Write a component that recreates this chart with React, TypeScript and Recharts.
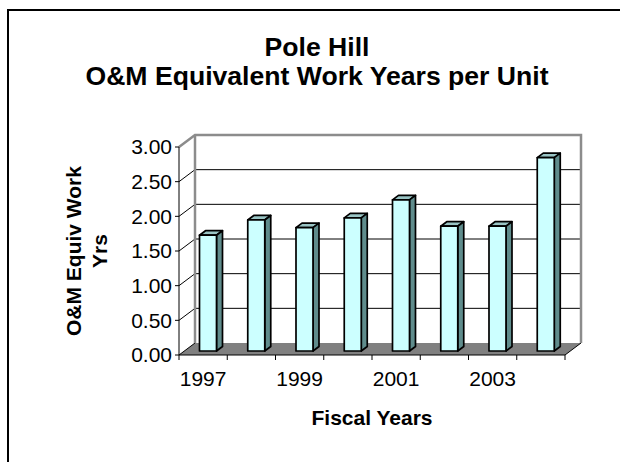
import React from 'react';
import { BarChart, Bar, XAxis, YAxis, ReferenceArea } from 'recharts';

const years = ['1997', '1998', '1999', '2000', '2001', '2002', '2003', '2004'];
const workYears = [1.67, 1.89, 1.78, 1.92, 2.18, 1.8, 1.8, 2.79];
const yTicks = [0, 0.5, 1, 1.5, 2, 2.5, 3];
const titleLines = ['Pole Hill', 'O&M Equivalent Work Years per Unit'];
const yLabelLines = ['O&M Equiv Work', 'Yrs'];

const data = years.map((year, i) => ({ year, value: workYears[i] }));

const FONT = '"Liberation Sans", Arial, sans-serif';
// 3D look: back wall offset and bar depth
const WALL_DX = 16;
const WALL_DY = -12;
const BAR_SHIFT_X = 4.5;
const BAR_SHIFT_Y = -4;
const BAR_DX = 6;
const BAR_DY = -4.5;

const Scene = (props: any) => {
    const { x, y, width, height } = props;
    const yMax = yTicks[yTicks.length - 1];
    const bottom = y + height;
    const inner = yTicks.filter((t) => t > 0 && t < yMax);
    const n = years.length;
    return (
        <g>
            <rect x={x + WALL_DX} y={y + WALL_DY} width={width} height={height} fill="#fff" />
            <polygon
                points={`${x},${bottom} ${x + width},${bottom} ${x + width + WALL_DX},${bottom + WALL_DY} ${x + WALL_DX},${bottom + WALL_DY}`}
                fill="#808080"
            />
            {inner.map((t) => {
                const yy = y + height * (1 - t / yMax);
                return (
                    <g key={t}>
                        <line x1={x + WALL_DX} x2={x + WALL_DX + width} y1={yy + WALL_DY} y2={yy + WALL_DY} stroke="#000" strokeWidth={1} />
                        <line x1={x} x2={x + WALL_DX} y1={yy} y2={yy + WALL_DY} stroke="#000" strokeWidth={1} />
                    </g>
                );
            })}
            <line x1={x + width} y1={bottom} x2={x + width + WALL_DX} y2={bottom + WALL_DY} stroke="#000" strokeWidth={1} />
            <line x1={x} y1={bottom} x2={x + WALL_DX} y2={bottom + WALL_DY} stroke="#000" strokeWidth={1} />
            <polyline
                points={`${x},${y} ${x + WALL_DX},${y + WALL_DY} ${x + WALL_DX + width},${y + WALL_DY} ${x + WALL_DX + width},${bottom + WALL_DY}`}
                fill="none"
                stroke="#8c8c8c"
                strokeWidth={2.5}
            />
            <line x1={x + WALL_DX} y1={y + WALL_DY} x2={x + WALL_DX} y2={bottom + WALL_DY} stroke="#8c8c8c" strokeWidth={2.5} />
            {Array.from({ length: n + 1 }, (_, i) => {
                const xx = x + (width * i) / n;
                return <line key={i} x1={xx} x2={xx} y1={bottom} y2={bottom + 5} stroke="#000" strokeWidth={1} />;
            })}
        </g>
    );
};

const Bar3D = (props: any) => {
    const { x, y, width, height } = props;
    if (height == null || width == null) return null;
    const fx = x + BAR_SHIFT_X;
    const fy = y + BAR_SHIFT_Y;
    const w = width;
    const h = height;
    return (
        <g stroke="#000" strokeWidth={1.7} strokeLinejoin="round">
            <polygon
                points={`${fx},${fy} ${fx + BAR_DX},${fy + BAR_DY} ${fx + w + BAR_DX},${fy + BAR_DY} ${fx + w},${fy}`}
                fill="#99c4c4"
            />
            <polygon
                points={`${fx + w},${fy} ${fx + w + BAR_DX},${fy + BAR_DY} ${fx + w + BAR_DX},${fy + h + BAR_DY} ${fx + w},${fy + h}`}
                fill="#5f8c8c"
            />
            <rect x={fx} y={fy} width={w} height={h} fill="#ccffff" />
        </g>
    );
};

const YLabel = (props: any) => {
    const vb = props.viewBox || {};
    const cx = 86;
    const cy = vb.y + vb.height / 2;
    return (
        <text
            x={cx}
            y={cy}
            transform={`rotate(-90, ${cx}, ${cy})`}
            textAnchor="middle"
            fontFamily={FONT}
            fontSize={21}
            fontWeight="bold"
            fill="#000"
        >
            <tspan x={cx} y={cy - 5}>{yLabelLines[0]}</tspan>
            <tspan x={cx} y={cy + 20.5}>{yLabelLines[1]}</tspan>
        </text>
    );
};

const XLabel = (props: any) => {
    const vb = props.viewBox || {};
    return (
        <text
            x={vb.x + vb.width / 2}
            y={vb.y + 70}
            textAnchor="middle"
            fontFamily={FONT}
            fontSize={21}
            fontWeight="bold"
            fill="#000"
        >
            Fiscal Years
        </text>
    );
};

export default function App() {
    return (
        <div style={{ position: 'absolute', left: 0, top: 0, width: 620, height: 462, overflow: 'hidden', background: '#fff' }}>
            <div
                style={{
                    position: 'absolute',
                    left: 7,
                    top: 9,
                    width: 700,
                    height: 600,
                    border: '2px solid #000',
                }}
            />
            <div style={{ position: 'absolute', left: 0, top: 0 }}>
                <BarChart width={620} height={462} data={data} margin={{ top: 147, right: 55, bottom: 27, left: 0 }}>
                    <ReferenceArea y1={0} y2={3} shape={(p: any) => <Scene {...p} />} />
                    <XAxis
                        dataKey="year"
                        interval={1}
                        height={80}
                        tickLine={false}
                        tickSize={6}
                        tickMargin={10}
                        axisLine={{ stroke: '#000' }}
                        tick={{ fontSize: 21, fill: '#000', fontFamily: FONT }}
                        label={(p: any) => <XLabel {...p} />}
                    />
                    <YAxis
                        width={179}
                        domain={[0, 3]}
                        ticks={yTicks}
                        interval={0}
                        tickFormatter={(v: number) => v.toFixed(2)}
                        tickSize={4}
                        tickMargin={3}
                        tickLine={{ stroke: '#000' }}
                        axisLine={{ stroke: '#000' }}
                        tick={{ fontSize: 21, fill: '#000', fontFamily: FONT }}
                        label={(p: any) => <YLabel {...p} />}
                    />
                    <Bar dataKey="value" barSize={17} isAnimationActive={false} shape={(p: any) => <Bar3D {...p} />} />
                </BarChart>
            </div>
            <svg width={620} height={462} style={{ position: 'absolute', left: 0, top: 0, pointerEvents: 'none' }}>
                {titleLines.map((line, i) => (
                    <text
                        key={line}
                        x={317}
                        y={55.5 + i * 29}
                        textAnchor="middle"
                        fontFamily={FONT}
                        fontSize={26.6}
                        fontWeight="bold"
                        fill="#000"
                    >
                        {line}
                    </text>
                ))}
            </svg>
        </div>
    );
}
